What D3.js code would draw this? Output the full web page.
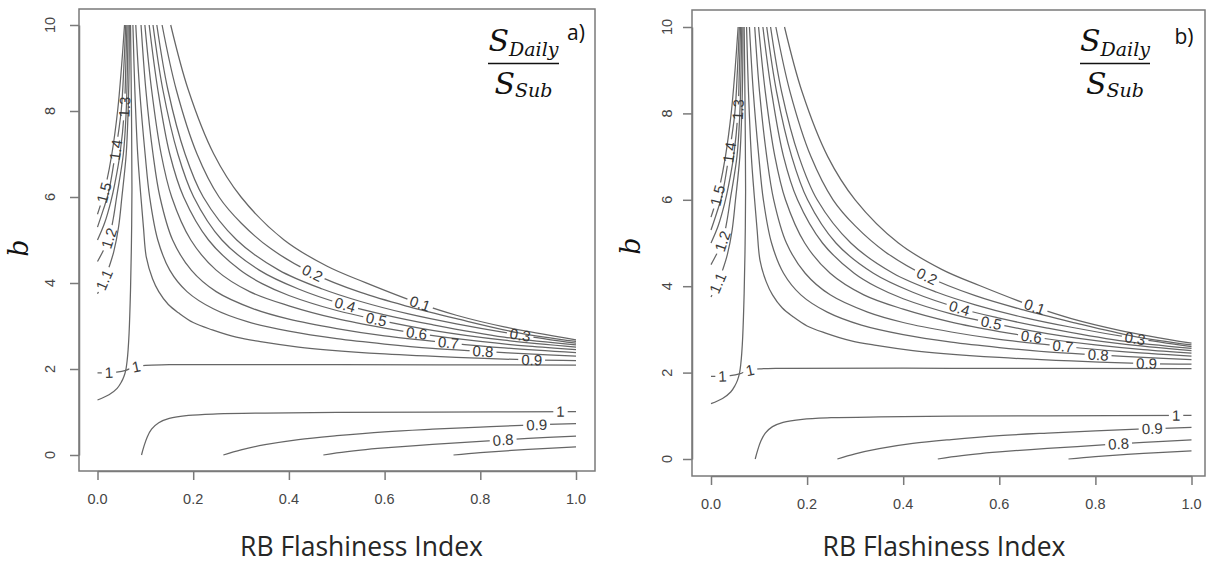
<!DOCTYPE html>
<html>
<head>
<meta charset="utf-8">
<script src="https://cdn.jsdelivr.net/npm/d3@7"></script>
<style>
  body { margin: 0; background: #fff; }
  svg { display: block; }
</style>
</head>
<body>
<svg id="chart" width="1207" height="564"></svg>
<script>
// ---- axis ticks ----
const xTickValues = [0, 0.2, 0.4, 0.6, 0.8, 1.0];
const yTickValues = [0, 2, 4, 6, 8, 10];

// ---- contour lines of S_Daily / S_Sub, points are [RB index, b] ----
// family above b ~ 2 (ratio below 1, right of the saddle)
const upper01 = [[0.153,10],[0.1895,8.5],[0.243,7],[0.300,6],[0.390,5],[0.48,4.39],[0.56,4.01],[0.674,3.52],[0.75,3.25],[0.85,2.98],[1.0,2.68]];
const upper02 = [[0.135,10],[0.1645,8.5],[0.208,7],[0.254,6],[0.3006,5.39],[0.362,4.8],[0.449,4.23],[0.55,3.78],[0.65,3.45],[0.75,3.17],[0.88,2.84],[1.0,2.64]];
const upper03 = [[0.124,10],[0.147,8.5],[0.183,7],[0.221,6],[0.291,5],[0.379,4.3],[0.47,3.86],[0.55,3.57],[0.65,3.28],[0.75,3.05],[0.883,2.79],[1.0,2.60]];
const upper04 = [[0.116,10],[0.1365,8.5],[0.168,7],[0.201,6],[0.260,5],[0.338,4.3],[0.42,3.86],[0.517,3.49],[0.6,3.26],[0.7,3.03],[0.85,2.74],[1.0,2.56]];
const upper05 = [[0.108,10],[0.126,8.5],[0.151,7],[0.180,6],[0.232,5],[0.298,4.3],[0.345,3.98],[0.4,3.71],[0.5,3.36],[0.583,3.15],[0.7,2.90],[0.85,2.67],[1.0,2.51]];
const upper06 = [[0.099,10],[0.113,8.5],[0.133,7],[0.155,6],[0.195,5],[0.248,4.3],[0.318,3.8],[0.4,3.47],[0.5,3.17],[0.6,2.95],[0.667,2.83],[0.8,2.64],[0.9,2.53],[1.0,2.45]];
const upper07 = [[0.091,10],[0.101,8.5],[0.116,7],[0.1305,6],[0.157,5],[0.196,4.3],[0.248,3.8],[0.326,3.4],[0.4,3.16],[0.5,2.94],[0.6,2.77],[0.733,2.61],[0.85,2.49],[1.0,2.38]];
const upper08 = [[0.080,10],[0.088,8.5],[0.0995,7],[0.109,6],[0.126,5],[0.151,4.3],[0.187,3.8],[0.242,3.4],[0.313,3.1],[0.4,2.88],[0.5,2.705],[0.6,2.58],[0.7,2.48],[0.806,2.41],[0.9,2.35],[1.0,2.30]];
const upper09 = [[0.074,10],[0.078,8.5],[0.084,7],[0.090,6.1],[0.096,5.3],[0.102,4.6],[0.115,4.1],[0.128,3.8],[0.148,3.5],[0.170,3.3],[0.20,3.08],[0.24,2.91],[0.29,2.74],[0.344,2.63],[0.42,2.51],[0.484,2.44],[0.6,2.35],[0.75,2.27],[0.907,2.21],[1.0,2.195]];

// the two branches of the ratio = 1 contour crossing near the saddle
const oneRising = [[0,1.28],[0.024,1.40],[0.041,1.55],[0.050,1.70],[0.055,1.82],[0.059,1.97],[0.062,2.2],[0.064,2.45],[0.066,2.83],[0.069,3.84],[0.071,5.0],[0.072,6.2],[0.071,8],[0.069,10]];
const oneLevel  = [[0,1.91],[0.02,1.915],[0.04,1.93],[0.059,1.97],[0.075,2.04],[0.1,2.085],[0.15,2.1],[0.5,2.1],[1.0,2.09]];

// family left of the saddle (ratio above 1)
const left11 = [[0,3.75],[0.014,4.07],[0.025,4.4],[0.034,4.73],[0.044,5.3],[0.051,6.0],[0.060,7.0],[0.064,8.0],[0.066,9],[0.0665,10]];
const left12 = [[0,4.5],[0.012,4.75],[0.024,5.04],[0.033,5.5],[0.040,6.0],[0.054,7.0],[0.060,8.0],[0.0625,9.0],[0.064,10]];
const left13 = [[0,5.0],[0.015,5.4],[0.028,5.9],[0.036,6.3],[0.047,7.0],[0.056,8.0],[0.059,9.0],[0.0615,10]];
const left14 = [[0,5.3],[0.012,5.7],[0.023,6.1],[0.037,7.0],[0.0495,8.0],[0.055,9.0],[0.059,10]];
const left15 = [[0,5.6],[0.010,5.95],[0.018,6.3],[0.030,7.0],[0.042,8.0],[0.050,9.0],[0.0565,10]];

// family below b ~ 1
const lower10 = [[0.092,0],[0.097,0.2],[0.104,0.42],[0.113,0.6],[0.128,0.75],[0.150,0.85],[0.19,0.92],[0.25,0.955],[0.35,0.975],[0.5,0.99],[0.7,1.0],[1.0,1.01]];
const lower09 = [[0.263,0],[0.30,0.12],[0.35,0.24],[0.42,0.36],[0.5,0.45],[0.6,0.54],[0.7,0.60],[0.8,0.65],[0.9,0.695],[1.0,0.73]];
const lower08 = [[0.472,0],[0.5,0.05],[0.55,0.115],[0.6,0.165],[0.7,0.245],[0.8,0.315],[0.9,0.385],[1.0,0.44]];
const lower07 = [[0.744,0],[0.8,0.055],[0.9,0.13],[1.0,0.19]];

const contourLines = [
  { id: "u01", pts: upper01 }, { id: "u02", pts: upper02 }, { id: "u03", pts: upper03 },
  { id: "u04", pts: upper04 }, { id: "u05", pts: upper05 }, { id: "u06", pts: upper06 },
  { id: "u07", pts: upper07 }, { id: "u08", pts: upper08 }, { id: "u09", pts: upper09 },
  { id: "r1",  pts: oneRising }, { id: "h1", pts: oneLevel },
  { id: "l11", pts: left11 }, { id: "l12", pts: left12 }, { id: "l13", pts: left13 },
  { id: "l14", pts: left14 }, { id: "l15", pts: left15 },
  { id: "d10", pts: lower10 }, { id: "d09", pts: lower09 }, { id: "d08", pts: lower08 },
  { id: "d07", pts: lower07 }
];

// contour labels: text, line it sits on, approximate [RB index, b]
const contourLabels = [
  { text: "0.1", on: "u01", at: [0.674, 3.52] },
  { text: "0.2", on: "u02", at: [0.449, 4.23] },
  { text: "0.3", on: "u03", at: [0.883, 2.79] },
  { text: "0.4", on: "u04", at: [0.517, 3.49] },
  { text: "0.5", on: "u05", at: [0.583, 3.15] },
  { text: "0.6", on: "u06", at: [0.667, 2.83] },
  { text: "0.7", on: "u07", at: [0.733, 2.61] },
  { text: "0.8", on: "u08", at: [0.806, 2.41] },
  { text: "0.9", on: "u09", at: [0.907, 2.21] },
  { text: "1",   on: "h1",  at: [0.081, 2.06] },
  { text: "1",   on: "h1",  at: [0.024, 1.915] },
  { text: "1.1", on: "l11", at: [0.014, 4.07] },
  { text: "1.2", on: "l12", at: [0.024, 5.04] },
  { text: "1.3", on: "l13", at: [0.057, 8.09] },
  { text: "1.4", on: "l14", at: [0.038, 7.1] },
  { text: "1.5", on: "l15", at: [0.012, 6.1] },
  { text: "1",   on: "d10", at: [0.968, 1.01] },
  { text: "0.9", on: "d09", at: [0.918, 0.70] },
  { text: "0.8", on: "d08", at: [0.848, 0.36] }
];

const xTitle = "RB Flashiness Index";
const yTitle = "b";
const panelTags = ["a)", "b)"];

// ---- layout of the two panels ----
const panels = [
  { key: "a", box: [79, 9, 595, 471], xr: [97.5, 576], yr: [455, 25],
    xLabY: 28, yLabX: 29, titleX: 361.5, yTitleX: 28, yTitleY: 248,
    fracL: 488, fracR: 559, tagX: 576, tagY: 40 },
  { key: "b", box: [692, 10, 1205, 476], xr: [711, 1191.5], yr: [459, 27],
    xLabY: 27.5, yLabX: 25.5, titleX: 944, yTitleX: 640, yTitleY: 246,
    fracL: 1080, fracR: 1150, tagX: 1184, tagY: 44 }
];

const svg = d3.select("#chart");
const LINE_COLOR = "#666";
const AXIS_COLOR = "#7a7a7a";
const LABEL_SIZE = 15;
const TICK_SIZE_FONT = 14.5;

panels.forEach((p, pi) => {
  const [bx0, by0, bx1, by1] = p.box;
  const x = d3.scaleLinear().domain([0, 1]).range(p.xr);
  const y = d3.scaleLinear().domain([0, 10]).range(p.yr);
  const g = svg.append("g").attr("class", "panel-" + p.key);

  const clipId = "clip-" + p.key;
  svg.append("clipPath").attr("id", clipId)
    .append("rect").attr("x", bx0).attr("y", by0).attr("width", bx1 - bx0).attr("height", by1 - by0);

  const line = d3.line().x(d => x(d[0])).y(d => y(d[1])).curve(d3.curveCatmullRom.alpha(0.5));
  const masks = svg.append("defs");
  const lineLayer = g.append("g").attr("clip-path", `url(#${clipId})`);
  const labelLayer = g.append("g");

  const paths = {};
  contourLines.forEach(c => {
    paths[c.id] = lineLayer.append("path")
      .attr("d", line(c.pts))
      .attr("fill", "none")
      .attr("stroke", LINE_COLOR)
      .attr("stroke-width", 1.25);
  });

  // place each label on its line, rotated along it, and cut a gap in that line
  const gaps = {};
  contourLabels.forEach(l => {
    const node = paths[l.on].node();
    const total = node.getTotalLength();
    const tx = x(l.at[0]), ty = y(l.at[1]);
    let best = 0, bestD = Infinity;
    for (let s = 0; s <= total; s += 0.5) {
      const pt = node.getPointAtLength(s);
      const dd = (pt.x - tx) ** 2 + (pt.y - ty) ** 2;
      if (dd < bestD) { bestD = dd; best = s; }
    }
    const c = node.getPointAtLength(best);
    const a0 = node.getPointAtLength(Math.max(0, best - 4));
    const a1 = node.getPointAtLength(Math.min(total, best + 4));
    let ang = Math.atan2(a1.y - a0.y, a1.x - a0.x) * 180 / Math.PI;
    if (ang > 90) ang -= 180;
    if (ang < -90) ang += 180;

    const t = labelLayer.append("text")
      .attr("transform", `translate(${c.x},${c.y}) rotate(${ang})`)
      .attr("text-anchor", "middle")
      .attr("dy", "0.35em")
      .attr("font-family", "'Liberation Sans', Arial, sans-serif")
      .attr("font-size", LABEL_SIZE)
      .attr("fill", "#3a3a3a")
      .text(l.text);
    const w = t.node().getComputedTextLength();
    (gaps[l.on] = gaps[l.on] || []).push({ x: c.x, y: c.y, ang, w });
  });

  Object.keys(gaps).forEach(id => {
    const mid = `mask-${p.key}-${id}`;
    const m = masks.append("mask").attr("id", mid)
      .attr("maskUnits", "userSpaceOnUse")
      .attr("x", 0).attr("y", 0).attr("width", 1207).attr("height", 564);
    m.append("rect").attr("x", 0).attr("y", 0).attr("width", 1207).attr("height", 564).attr("fill", "#fff");
    gaps[id].forEach(gp => {
      m.append("rect")
        .attr("x", -gp.w / 2 - 3).attr("y", -6.5)
        .attr("width", gp.w + 6).attr("height", 13)
        .attr("fill", "#000")
        .attr("transform", `translate(${gp.x},${gp.y}) rotate(${gp.ang})`);
    });
    paths[id].attr("mask", `url(#${mid})`);
  });

  // plot frame
  g.append("rect")
    .attr("x", bx0).attr("y", by0).attr("width", bx1 - bx0).attr("height", by1 - by0)
    .attr("fill", "none").attr("stroke", AXIS_COLOR).attr("stroke-width", 1.5);

  // axes: ticks from the scales, labels drawn R-style
  const xAxis = g.append("g").attr("transform", `translate(0,${by1})`)
    .call(d3.axisBottom(x).tickValues(xTickValues).tickSize(9).tickSizeOuter(0).tickFormat(""));
  const yAxis = g.append("g").attr("transform", `translate(${bx0},0)`)
    .call(d3.axisLeft(y).tickValues(yTickValues).tickSize(9).tickSizeOuter(0).tickFormat(""));
  [xAxis, yAxis].forEach(ax => {
    ax.selectAll("path, line").attr("stroke", AXIS_COLOR).attr("stroke-width", 1.5);
  });

  const tickFont = "'Liberation Sans', Arial, sans-serif";
  g.selectAll(null).data(xTickValues).enter().append("text")
    .attr("x", d => x(d)).attr("y", by1 + p.xLabY).attr("dy", "0.35em")
    .attr("text-anchor", "middle")
    .attr("font-family", tickFont).attr("font-size", TICK_SIZE_FONT).attr("fill", "#454545")
    .text(d3.format(".1f"));
  g.selectAll(null).data(yTickValues).enter().append("text")
    .attr("transform", d => `translate(${bx0 - p.yLabX},${y(d)}) rotate(-90)`)
    .attr("dy", "0.35em")
    .attr("text-anchor", "middle")
    .attr("font-family", tickFont).attr("font-size", TICK_SIZE_FONT).attr("fill", "#454545")
    .text(d => d);

  // axis titles
  g.append("text")
    .attr("x", p.titleX).attr("y", 556)
    .attr("text-anchor", "middle")
    .attr("font-family", "'Open Sans', 'Noto Sans', sans-serif")
    .attr("font-size", 26.5).attr("fill", "#262626")
    .text(xTitle);
  g.append("text")
    .attr("transform", `translate(${p.yTitleX},${p.yTitleY}) rotate(-90)`)
    .attr("text-anchor", "middle")
    .attr("font-family", "'DejaVu Serif', serif").attr("font-style", "italic")
    .attr("font-size", 27).attr("fill", "#111")
    .text(yTitle);

  // ratio annotation S_Daily / S_Sub
  const fc = (p.fracL + p.fracR) / 2;
  const num = g.append("text")
    .attr("x", fc).attr("y", 51).attr("text-anchor", "middle")
    .attr("font-family", "'DejaVu Serif', serif").attr("font-style", "italic")
    .attr("font-size", 30).attr("fill", "#111");
  num.append("tspan").text("S");
  num.append("tspan").attr("font-size", 19).attr("dy", 5).text("Daily");
  g.append("line")
    .attr("x1", p.fracL).attr("x2", p.fracR).attr("y1", 63.5).attr("y2", 63.5)
    .attr("stroke", "#111").attr("stroke-width", 1.5);
  const den = g.append("text")
    .attr("x", fc).attr("y", 94).attr("text-anchor", "middle")
    .attr("font-family", "'DejaVu Serif', serif").attr("font-style", "italic")
    .attr("font-size", 30).attr("fill", "#111");
  den.append("tspan").text("S");
  den.append("tspan").attr("font-size", 19).attr("dy", 3).text("Sub");

  g.append("text")
    .attr("x", p.tagX).attr("y", p.tagY).attr("text-anchor", "middle")
    .attr("font-family", "'Open Sans', 'Noto Sans', sans-serif")
    .attr("font-size", 21).attr("fill", "#111")
    .text(panelTags[pi]);
});
</script>
</body>
</html>
